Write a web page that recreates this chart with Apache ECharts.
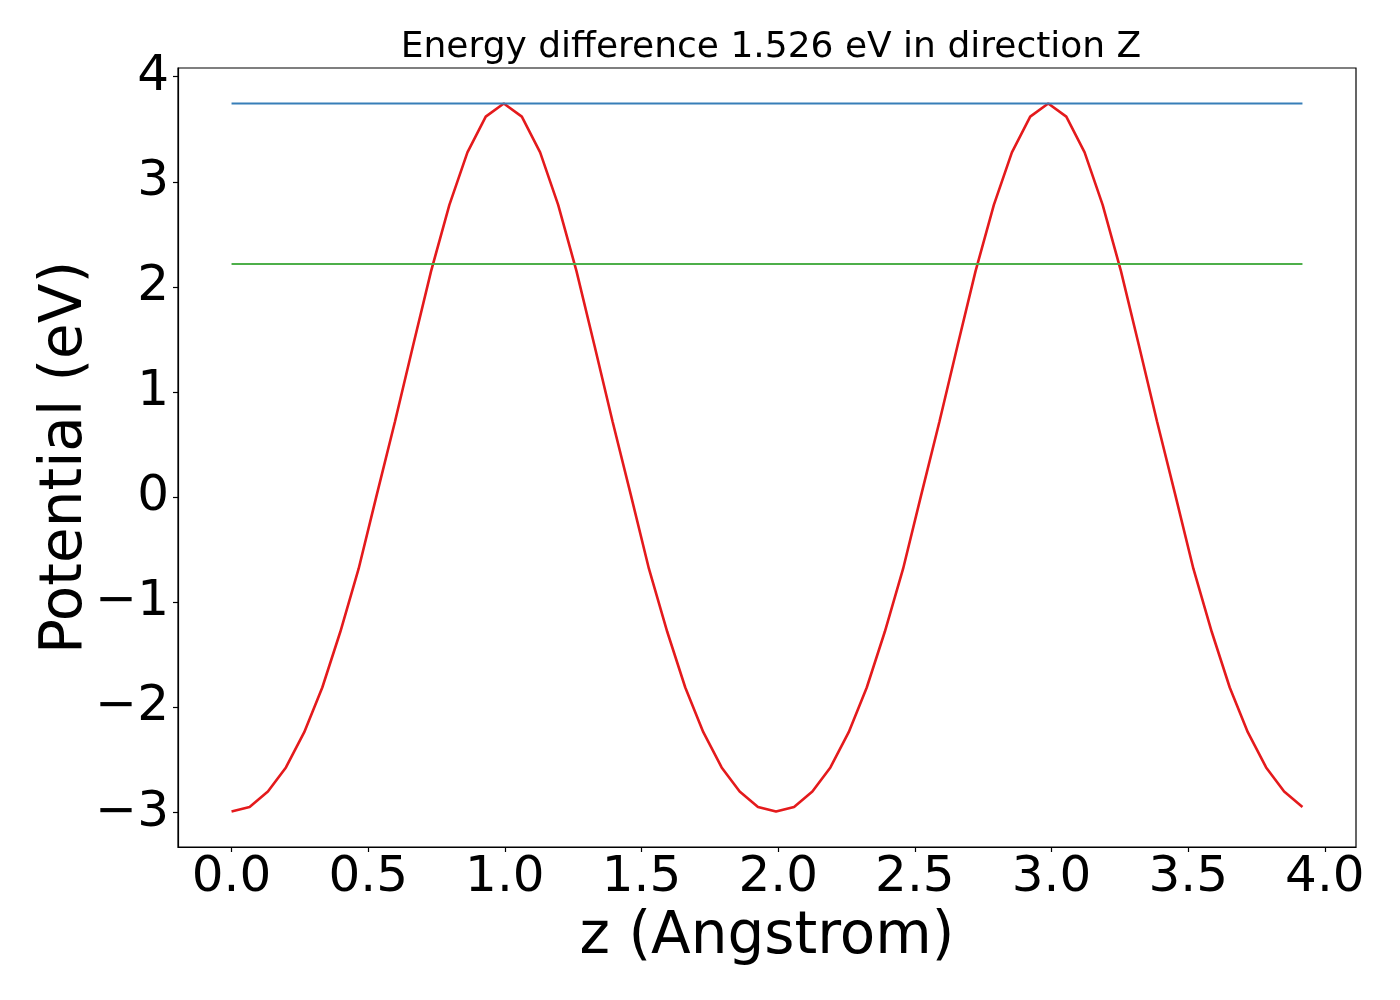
<!DOCTYPE html>
<html>
<head>
<meta charset="utf-8">
<script src="https://cdn.jsdelivr.net/npm/echarts@6/dist/echarts.min.js"></script>
<style>
  html, body { margin: 0; padding: 0; background: #ffffff; }
  #main { width: 1400px; height: 1000px; }
</style>
</head>
<body>
<div id="main"></div>
<script>
// z positions (Angstrom)
var zValues = [
    0.000, 0.066, 0.133, 0.199, 0.266, 0.332, 0.398, 0.465, 0.531, 0.598,
    0.664, 0.730, 0.797, 0.863, 0.930, 0.996, 1.062, 1.129, 1.195, 1.262,
    1.328, 1.394, 1.461, 1.527, 1.594, 1.660, 1.726, 1.793, 1.859, 1.926,
    1.992, 2.058, 2.125, 2.191, 2.258, 2.324, 2.390, 2.457, 2.523, 2.590,
    2.656, 2.722, 2.789, 2.855, 2.922, 2.988, 3.054, 3.121, 3.187, 3.254,
    3.320, 3.386, 3.453, 3.519, 3.586, 3.652, 3.718, 3.785, 3.851, 3.918
];

// potential (eV)
var potential = [
    -2.99, -2.946, -2.80, -2.57, -2.235, -1.81, -1.28, -0.68, 0.02, 0.72,
    1.44, 2.15, 2.78, 3.28, 3.62, 3.745, 3.62, 3.28, 2.78, 2.15,
    1.44, 0.72, 0.02, -0.68, -1.28, -1.81, -2.235, -2.57, -2.80, -2.946,
    -2.99, -2.946, -2.80, -2.57, -2.235, -1.81, -1.28, -0.68, 0.02, 0.72,
    1.44, 2.15, 2.78, 3.28, 3.62, 3.745, 3.62, 3.28, 2.78, 2.15,
    1.44, 0.72, 0.02, -0.68, -1.28, -1.81, -2.235, -2.57, -2.80, -2.946
];

// reference levels
var maxLevel = 3.745;
var otherLevel = 2.219;

var xTicks = [0, 0.5, 1.0, 1.5, 2.0, 2.5, 3.0, 3.5, 4.0];
var yTicks = [-3, -2, -1, 0, 1, 2, 3, 4];

var titleText = "Energy difference 1.526 eV in direction Z";

var font = "DejaVu Sans";

function pairs(xs, ys) {
    var out = [];
    for (var i = 0; i < xs.length; i++) out.push([xs[i], ys[i]]);
    return out;
}

var zFirst = zValues[0];
var zLast = zValues[zValues.length - 1];

var state = {
    animation: false,
    backgroundColor: "#ffffff",
    textStyle: { fontFamily: font },
    title: {
        text: titleText,
        left: 766,
        textAlign: "center",
        top: 25,
        textStyle: {
            fontFamily: font,
            fontSize: 36,
            fontWeight: "normal",
            color: "#000000",
        },
    },
    grid: {
        left: 178,
        right: 44,
        top: 68,
        bottom: 153,
        show: true,
        borderColor: "#000000",
        borderWidth: 1.2,
        containLabel: false,
    },
    xAxis: {
        type: "value",
        min: -0.1959,
        max: 4.1139,
        name: "z (Angstrom)",
        nameLocation: "middle",
        nameGap: 62,
        nameMoveOverlap: false,
        nameTextStyle: { fontFamily: font, fontSize: 58, color: "#000000" },
        axisLine: { show: true, onZero: false, lineStyle: { color: "#000000", width: 1.2 } },
        axisTick: {
            show: true,
            length: 5,
            customValues: xTicks,
            lineStyle: { color: "#000000", width: 1.2 },
        },
        axisLabel: {
            customValues: xTicks,
            color: "#000000",
            fontFamily: font,
            fontSize: 50,
            margin: 6,
            formatter: function (v) { return v.toFixed(1); },
        },
        splitLine: { show: false },
    },
    yAxis: {
        type: "value",
        min: -3.327,
        max: 4.082,
        name: "Potential (eV)",
        nameLocation: "middle",
        nameGap: 83,
        nameRotate: 90,
        nameMoveOverlap: false,
        nameTextStyle: { fontFamily: font, fontSize: 58, color: "#000000" },
        axisLine: { show: true, onZero: false, lineStyle: { color: "#000000", width: 1.2 } },
        axisTick: {
            show: true,
            length: 5,
            customValues: yTicks,
            lineStyle: { color: "#000000", width: 1.2 },
        },
        axisLabel: {
            customValues: yTicks,
            color: "#000000",
            fontFamily: font,
            fontSize: 50,
            margin: 9,
            formatter: function (v) { return String(v).replace("-", "\u2212"); },
        },
        splitLine: { show: false },
    },
    series: [
        {
            name: "potential",
            type: "line",
            data: pairs(zValues, potential),
            showSymbol: false,
            symbol: "none",
            lineStyle: { color: "#e41a1c", width: 2.6 },
            z: 2,
        },
        {
            name: "max",
            type: "line",
            data: [[zFirst, maxLevel], [zLast, maxLevel]],
            symbol: "none",
            lineStyle: { color: "#377eb8", width: 2 },
            z: 3,
        },
        {
            name: "level",
            type: "line",
            data: [[zFirst, otherLevel], [zLast, otherLevel]],
            symbol: "none",
            lineStyle: { color: "#4daf4a", width: 2 },
            z: 3,
        },
    ],
};

var myChart = echarts.init(document.getElementById("main"), null, { renderer: "canvas" });
myChart.setOption(state);
</script>
</body>
</html>
